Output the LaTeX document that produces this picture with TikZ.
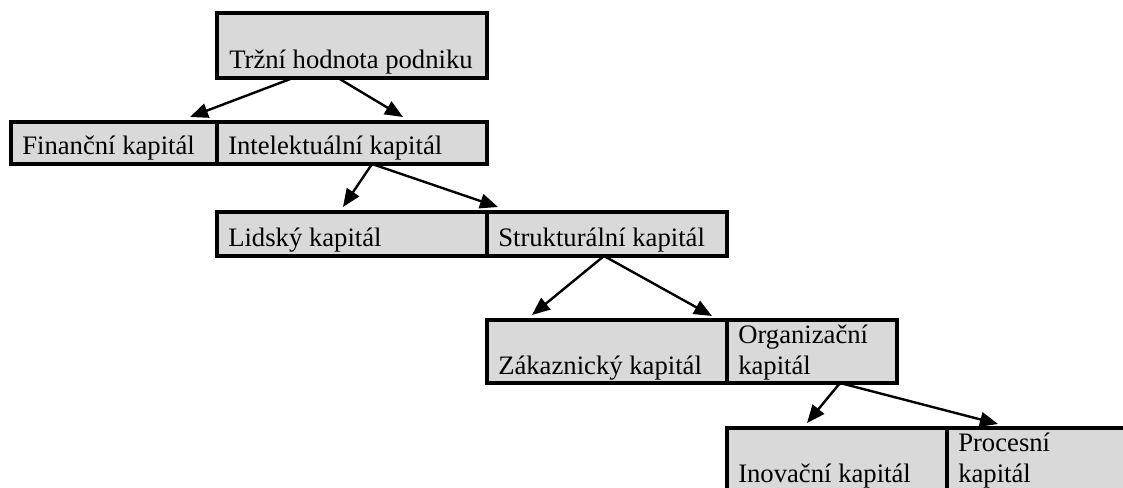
\documentclass[tikz,border=0pt]{standalone}
\usepackage{fontspec}
\setmainfont{Liberation Serif}
\usetikzlibrary{arrows.meta}
\definecolor{boxgray}{RGB}{217,217,217}
\tikzset{
  cellbox/.style={draw=black, fill=boxgray, line width=2.6pt, rectangle,
    anchor=north west, inner sep=0pt, outer sep=0pt},
  lbl/.style={font=\fontsize{20}{24}\selectfont, inner sep=0pt, anchor=base west},
  arr/.style={line width=1.8pt, -{Triangle[length=13.5pt,width=11pt]}},
}
\begin{document}
\begin{tikzpicture}[x=0.75pt,y=-0.75pt]
\useasboundingbox (0,0) rectangle (1123,488);

% boxes
\node[cellbox, minimum width=202.5pt, minimum height=48.75pt] (top) at (217,13) {};
\node[cellbox, minimum width=154.5pt, minimum height=31.5pt] (fin) at (11,122) {};
\node[cellbox, minimum width=202.5pt, minimum height=31.5pt] (intel) at (217,122) {};
\node[cellbox, minimum width=202.5pt, minimum height=33pt] (lid) at (217,212) {};
\node[cellbox, minimum width=180pt, minimum height=33pt] (str) at (487,212) {};
\node[cellbox, minimum width=180pt, minimum height=47.25pt] (zak) at (487,320) {};
\node[cellbox, minimum width=127.5pt, minimum height=47.25pt] (org) at (727,320) {};
\node[cellbox, minimum width=165pt, minimum height=52.5pt] (ino) at (727,428) {};
\node[cellbox, minimum width=142.5pt, minimum height=52.5pt] (pro) at (947,428) {};

% labels
\node[lbl] (ttop) at ([shift={(12,-9)}]top.south west) {Tržní hodnota podniku};
\node[lbl] (tfin) at ([shift={(11,-9)}]fin.south west) {Finanční kapitál};
\node[lbl] (tintel) at ([shift={(11,-9)}]intel.south west) {Intelektuální kapitál};
\node[lbl] (tlid) at ([shift={(11,-9)}]lid.south west) {Lidský kapitál};
\node[lbl] (tstr) at ([shift={(11,-9)}]str.south west) {Strukturální kapitál};
\node[lbl] (tzak) at ([shift={(11,54)}]zak.north west) {Zákaznický kapitál};
\node[lbl] (torg1) at ([shift={(11,23)}]org.north west) {Organizační};
\node[lbl] (torg2) at ([shift={(11,54)}]org.north west) {kapitál};
\node[lbl] (tino) at ([shift={(11,54)}]ino.north west) {Inovační kapitál};
\node[lbl] (tpro1) at ([shift={(11,23)}]pro.north west) {Procesní};
\node[lbl] (tpro2) at ([shift={(11,54)}]pro.north west) {kapitál};

% connectors
\draw[arr] ([shift={(76,0)}]top.south west) -- ([shift={(179,-5)}]fin.north west);
\draw[arr] ([shift={(121,0)}]top.south west) -- ([shift={(186,-5)}]intel.north west);
\draw[arr] ([shift={(155,0)}]intel.south west) -- ([shift={(126,-5)}]lid.north west);
\draw[arr] ([shift={(155,0)}]intel.south west) -- ([shift={(11,-5)}]str.north west);
\draw[arr] ([shift={(117,0)}]str.south west) -- ([shift={(45,-5)}]zak.north west);
\draw[arr] ([shift={(117,0)}]str.south west) -- ([shift={(-15,-4)}]org.north west);
\draw[arr] ([shift={(113,0)}]org.south west) -- ([shift={(80,-5)}]ino.north west);
\draw[arr] ([shift={(113,0)}]org.south west) -- ([shift={(51,-4)}]pro.north west);
\end{tikzpicture}
\end{document}
